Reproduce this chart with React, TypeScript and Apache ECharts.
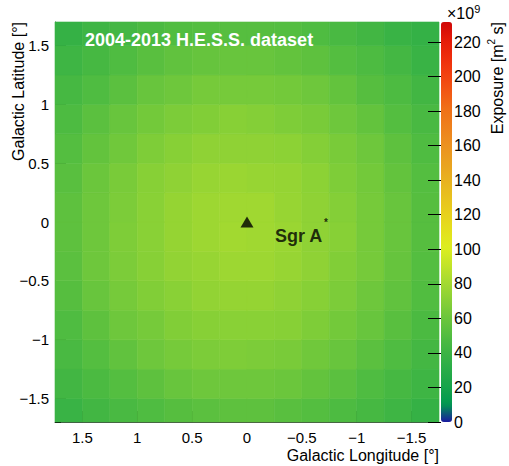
import React, { useEffect, useRef } from 'react';
import * as echarts from 'echarts';

// Cell centres (degrees)
const lonCenters = [1.625, 1.375, 1.125, 0.875, 0.625, 0.375, 0.125, -0.125, -0.375, -0.625, -0.875, -1.125, -1.375, -1.625];
const latCenters = [-1.625, -1.375, -1.125, -0.875, -0.625, -0.375, -0.125, 0.125, 0.375, 0.625, 0.875, 1.125, 1.375, 1.625];
const cellSize = 0.25;

// Exposure [1e9 m^2 s], rows = latitude (bottom -> top), columns = longitude (left -> right)
const exposureRows = [
  [39, 43, 46, 49, 52, 54, 55, 55, 53, 51, 48, 45, 41, 37],
  [43, 47, 51, 55, 59, 61, 61, 61, 60, 57, 54, 49, 45, 41],
  [46, 51, 56, 61, 64, 66, 67, 66, 65, 62, 59, 54, 49, 44],
  [49, 55, 61, 64, 68, 70, 71, 71, 70, 67, 63, 59, 53, 47],
  [52, 59, 64, 68, 71, 74, 75, 75, 73, 70, 66, 61, 56, 50],
  [54, 61, 66, 70, 74, 76, 78, 78, 76, 73, 68, 64, 58, 51],
  [55, 61, 67, 71, 75, 78, 80, 79, 77, 73, 70, 64, 59, 52],
  [55, 61, 66, 71, 75, 78, 79, 79, 76, 73, 69, 64, 59, 52],
  [53, 60, 65, 70, 73, 76, 77, 76, 75, 72, 67, 63, 57, 51],
  [51, 57, 62, 67, 70, 73, 73, 73, 72, 69, 65, 61, 55, 49],
  [48, 54, 59, 63, 66, 68, 70, 69, 67, 65, 61, 57, 51, 46],
  [45, 49, 54, 59, 61, 64, 64, 64, 63, 61, 57, 52, 48, 43],
  [41, 45, 49, 53, 56, 58, 59, 59, 57, 55, 51, 48, 44, 39],
  [37, 41, 44, 47, 50, 51, 52, 52, 51, 49, 46, 43, 39, 36],
];

const majorTicks = [-1.5, -1, -0.5, 0, 0.5, 1, 1.5];
const minorTicks = [-1.7, -1.6, -1.5, -1.4, -1.3, -1.2, -1.1, -1.0, -0.9, -0.8, -0.7, -0.6, -0.5, -0.4, -0.3, -0.2, -0.1, 0,
  0.1, 0.2, 0.3, 0.4, 0.5, 0.6, 0.7, 0.8, 0.9, 1.0, 1.1, 1.2, 1.3, 1.4, 1.5, 1.6, 1.7];
const colorbarTicks = [0, 20, 40, 60, 80, 100, 120, 140, 160, 180, 200, 220];
const colorbarMax = 231.6;

const palette = [
  '#1a1aa0', '#009850', '#16a44a', '#28ac48', '#3cb444', '#52bd40', '#6cc63c', '#88d036',
  '#a4da30', '#c2e428', '#dcee20', '#e4e01c', '#e8d01c', '#e8c01e', '#e8b020', '#eaa020',
  '#ec9020', '#ee801c', '#f07018', '#f25814', '#f24010', '#ee2c0c', '#e41a08', '#d00808',
];

// Source position
const sourceMarker = [[0, 0]];
const annotations = [
  { text: 'Sgr A', lon: -0.47, lat: -0.12, size: 18 },
  { text: '*', lon: -0.72, lat: -0.005, size: 10 },
];

const FONT = '"Liberation Sans", Arial, Helvetica, sans-serif';

const fmt = (v: number) => (v < 0 ? '\u2212' + String(-v) : String(v));

export default function App() {
  const ref = useRef<HTMLDivElement>(null);

  useEffect(() => {
    if (!ref.current) return;
    const chart = echarts.init(ref.current, undefined, { renderer: 'svg' });

    const cells: number[][] = [];
    exposureRows.forEach((row, i) => {
      row.forEach((v, j) => {
        cells.push([lonCenters[j], latCenters[i], v]);
      });
    });

    const option: any = {
      animation: false,
      backgroundColor: '#ffffff',
      textStyle: { fontFamily: FONT },
      grid: [
        { left: 55, top: 22, width: 384, height: 400, containLabel: false },
        { left: 441, top: 22, width: 11, height: 400, containLabel: false },
      ],
      xAxis: [
        {
          type: 'value', gridIndex: 0, min: -1.75, max: 1.75, inverse: true, position: 'bottom',
          axisLine: { show: true, onZero: false, lineStyle: { color: '#444', width: 1 } },
          axisTick: { show: true, inside: true, length: 11, customValues: majorTicks, lineStyle: { color: '#000' } },
          axisLabel: { show: true, customValues: majorTicks, formatter: fmt, fontSize: 15, color: '#000', margin: 8, fontFamily: FONT },
          splitLine: { show: false },
        },
        {
          type: 'value', gridIndex: 0, min: -1.75, max: 1.75, inverse: true, position: 'bottom',
          axisLine: { show: false, onZero: false },
          axisTick: { show: true, inside: true, length: 6, customValues: minorTicks, lineStyle: { color: '#000' } },
          axisLabel: { show: false },
          splitLine: { show: false },
        },
        {
          type: 'value', gridIndex: 1, min: 0, max: 1, show: false,
        },
      ],
      yAxis: [
        {
          type: 'value', gridIndex: 0, min: -1.7, max: 1.7, position: 'left',
          axisLine: { show: true, onZero: false, lineStyle: { color: '#444', width: 1 } },
          axisTick: { show: true, inside: true, length: 11, customValues: majorTicks, lineStyle: { color: '#000' } },
          axisLabel: { show: true, customValues: majorTicks, formatter: fmt, fontSize: 15, color: '#000', margin: 6, fontFamily: FONT },
          splitLine: { show: false },
        },
        {
          type: 'value', gridIndex: 0, min: -1.7, max: 1.7, position: 'left',
          axisLine: { show: false, onZero: false },
          axisTick: { show: true, inside: true, length: 6, customValues: minorTicks, lineStyle: { color: '#000' } },
          axisLabel: { show: false },
          splitLine: { show: false },
        },
        {
          type: 'value', gridIndex: 1, min: 0, max: colorbarMax, position: 'right',
          axisLine: { show: false },
          axisTick: { show: true, inside: true, length: 13, customValues: colorbarTicks, lineStyle: { color: '#000' } },
          axisLabel: { show: true, customValues: colorbarTicks, fontSize: 16, color: '#000', margin: 2, fontFamily: FONT },
          splitLine: { show: false },
          z: 10,
        },
      ],
      visualMap: {
        type: 'continuous',
        seriesIndex: 0,
        dimension: 2,
        min: 0,
        max: colorbarMax,
        left: 441,
        top: 22,
        itemWidth: 11,
        itemHeight: 400,
        padding: 0,
        calculable: false,
        realtime: false,
        hoverLink: false,
        text: null,
        showLabel: false,
        inRange: { color: palette },
      },
      series: [
        {
          type: 'custom',
          xAxisIndex: 0,
          yAxisIndex: 0,
          data: cells,
          encode: { x: 0, y: 1 },
          renderItem: (params: any, api: any) => {
            const x = api.value(0);
            const y = api.value(1);
            const p1 = api.coord([x + cellSize / 2, y + cellSize / 2]);
            const p2 = api.coord([x - cellSize / 2, y - cellSize / 2]);
            const cs = params.coordSys;
            const shape = echarts.graphic.clipRectByRect(
              {
                x: Math.min(p1[0], p2[0]),
                y: Math.min(p1[1], p2[1]),
                width: Math.abs(p1[0] - p2[0]),
                height: Math.abs(p1[1] - p2[1]),
              },
              { x: cs.x, y: cs.y, width: cs.width, height: cs.height }
            );
            if (!shape) return null;
            const c = api.visual('color');
            return { type: 'rect', shape, style: { fill: c, stroke: c, lineWidth: 0.6 } };
          },
          z: 1,
        },
        {
          type: 'scatter',
          xAxisIndex: 0,
          yAxisIndex: 0,
          data: sourceMarker,
          symbol: 'triangle',
          symbolSize: [13, 11],
          itemStyle: { color: '#000' },
          z: 5,
        },
        {
          type: 'scatter',
          xAxisIndex: 0,
          yAxisIndex: 0,
          data: annotations.map((a) => ({
            value: [a.lon, a.lat],
            name: a.text,
            label: { fontSize: a.size },
          })),
          symbolSize: 1,
          itemStyle: { color: 'rgba(0,0,0,0)' },
          label: {
            show: true,
            position: 'inside',
            formatter: (p: any) => p.name,
            color: '#000',
            fontWeight: 'bold',
            fontFamily: FONT,
          },
          z: 5,
        },
      ],
      graphic: [
        {
          type: 'text', x: 85, y: 40, z: 20,
          style: { text: '2004-2013 H.E.S.S. dataset', fill: '#ffffff', fontSize: 18, fontWeight: 'bold', fontFamily: FONT, verticalAlign: 'middle', align: 'left' },
        },
        {
          type: 'text', x: 439, y: 455, z: 20,
          style: { text: 'Galactic Longitude [°]', fill: '#000', fontSize: 16, fontFamily: FONT, verticalAlign: 'middle', align: 'right' },
        },
        {
          type: 'text', x: 18, y: 22, rotation: Math.PI / 2, z: 20,
          style: { text: 'Galactic Latitude [°]', fill: '#000', fontSize: 16, fontFamily: FONT, verticalAlign: 'middle', align: 'right' },
        },
        {
          type: 'text', x: 497, y: 22, rotation: Math.PI / 2, z: 20,
          style: {
            text: '{n|Exposure [m}{s|2}{n| s]}',
            fill: '#000', fontFamily: FONT, verticalAlign: 'middle', align: 'right',
            rich: {
              n: { fontSize: 16, lineHeight: 22, fontFamily: FONT, fill: '#000' },
              s: { fontSize: 10, lineHeight: 12, verticalAlign: 'top', fontFamily: FONT, fill: '#000' },
            },
          },
        },
        {
          type: 'text', x: 447, y: 13, z: 20,
          style: {
            text: '{n|\u00d710}{s|9}',
            fill: '#000', fontFamily: FONT, verticalAlign: 'middle', align: 'left',
            rich: {
              n: { fontSize: 16, lineHeight: 20, fontFamily: FONT, fill: '#000' },
              s: { fontSize: 11, lineHeight: 12, verticalAlign: 'top', fontFamily: FONT, fill: '#000' },
            },
          },
        },
      ],
    };

    chart.setOption(option);
    return () => chart.dispose();
  }, []);

  return (
    <div
      ref={ref}
      style={{ position: 'absolute', left: 0, top: 0, width: 509, height: 466, background: '#fff' }}
    />
  );
}
